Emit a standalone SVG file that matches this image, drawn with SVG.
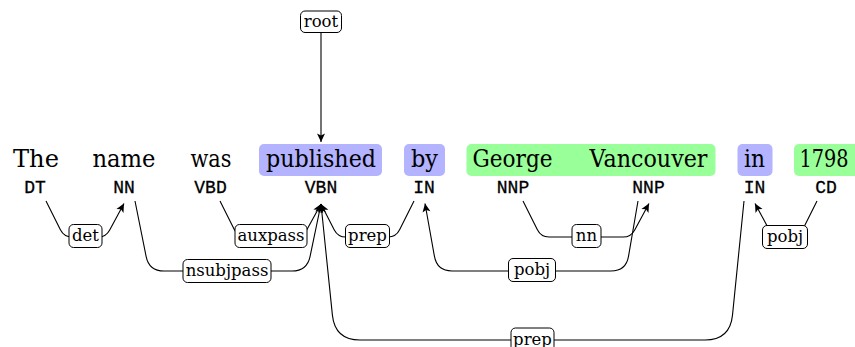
<svg xmlns="http://www.w3.org/2000/svg" width="855" height="347" viewBox="0 0 855 347">
  <style>
    .word { font-family: "DejaVu Serif", "Liberation Serif", serif; font-size: 23.5px; fill: #000; text-anchor: middle; }
    .tag { font-family: "Liberation Mono", "DejaVu Sans Mono", monospace; font-size: 18px; fill: #000; stroke: #000; stroke-width: 0.3; text-anchor: middle; }
    .hl-blue { fill: #b3b3ff; }
    .hl-green { fill: #99ff99; }
    .edge { fill: none; stroke: #000; stroke-width: 1.1; stroke-linejoin: round; marker-end: url(#head); }
    .lbl rect { fill: #fff; stroke: #000; stroke-width: 1; }
    .lbl text { font-family: "DejaVu Serif", "Liberation Serif", serif; font-size: 16.5px; fill: #000; text-anchor: middle; }
  </style>
  <defs>
    <marker id="head" markerUnits="userSpaceOnUse" markerWidth="12" markerHeight="10" refX="10" refY="5" orient="auto" viewBox="0 0 12 10">
      <path d="M10,5 L1.5,1 L3.5,5 L1.5,9 Z" fill="#000"/>
    </marker>
  </defs>

  <rect width="855" height="347" fill="#fff"/>

  <!-- chunk highlight spanning two tokens -->
  <g id="chunk-george-vancouver"><rect class="hl-green" x="466.5" y="144" width="249" height="32" rx="5"/></g>

  <!-- tokens: word on top, part-of-speech tag below -->
  <g id="tok-the"><text class="word" x="36" y="167" textLength="46" lengthAdjust="spacingAndGlyphs">The</text><text class="tag" x="35" y="193">DT</text></g>
  <g id="tok-name"><text class="word" x="124" y="167" textLength="63" lengthAdjust="spacingAndGlyphs">name</text><text class="tag" x="124" y="193">NN</text></g>
  <g id="tok-was"><text class="word" x="211" y="167" textLength="41" lengthAdjust="spacingAndGlyphs">was</text><text class="tag" x="210.5" y="193">VBD</text></g>
  <g id="tok-published"><rect class="hl-blue" x="259" y="144" width="123" height="32" rx="5"/><text class="word" x="321" y="167" textLength="110" lengthAdjust="spacingAndGlyphs">published</text><text class="tag" x="321" y="193">VBN</text></g>
  <g id="tok-by"><rect class="hl-blue" x="404" y="144" width="41" height="32" rx="5"/><text class="word" x="424.5" y="167" textLength="27" lengthAdjust="spacingAndGlyphs">by</text><text class="tag" x="424" y="193">IN</text></g>
  <g id="tok-george"><text class="word" x="512.5" y="167" textLength="80" lengthAdjust="spacingAndGlyphs">George</text><text class="tag" x="513" y="193">NNP</text></g>
  <g id="tok-vancouver"><text class="word" x="648.5" y="167" textLength="118" lengthAdjust="spacingAndGlyphs">Vancouver</text><text class="tag" x="648.5" y="193">NNP</text></g>
  <g id="tok-in"><rect class="hl-blue" x="737.5" y="144" width="35" height="32" rx="5"/><text class="word" x="754.5" y="167" textLength="21" lengthAdjust="spacingAndGlyphs">in</text><text class="tag" x="754.5" y="193">IN</text></g>
  <g id="tok-1798"><rect class="hl-green" x="794" y="144" width="66" height="32" rx="5"/><text class="word" x="824" y="167" font-size="21" textLength="49" lengthAdjust="spacingAndGlyphs">1798</text><text class="tag" x="826" y="193">CD</text></g>

  <!-- dependency arcs -->
  <g id="connectors">
    <path class="edge" d="M321,32 L321,142"/>
    <path class="edge" d="M46,201 L60.4,229.8 Q64,237 72,237 L98,237 Q106,237 109.7,229.9 L124,203.5"/>
    <path class="edge" d="M220,201 L234.4,229.8 Q238,237 246,237 L295,237 Q303,237 306.7,229.9 L321,204"/>
    <path class="edge" d="M414,201 L399.6,229.8 Q396,237 388,237 L346,237 Q338,237 334.3,229.9 L321,204"/>
    <path class="edge" d="M523,201 L537.4,229.8 Q541,237 549,237 L623,237 Q631,237 634.7,229.9 L649,203.5"/>
    <path class="edge" d="M817,201 L802.6,229.8 Q799,237 791,237 L781,237 Q773,237 769.3,229.9 L755,203.5"/>
    <path class="edge" d="M135,201 L146.1,256.3 Q149,271 164,271 L292,271 Q307,271 310.1,256.3 L321,204"/>
    <path class="edge" d="M638,201 L628.5,256.4 Q626,271 611,271 L452,271 Q437,271 434.4,256.2 L425,203.5"/>
    <path class="edge" d="M744,201 L732.5,315.1 Q730,340 705,340 L360,340 Q335,340 332.4,315.1 L321,204"/>
  </g>

  <!-- arc labels -->
  <g id="lbl-root" class="lbl"><rect x="300.5" y="11" width="41" height="21.5" rx="4.5"/><text x="321" y="26.5">root</text></g>
  <g id="lbl-det" class="lbl"><rect x="69" y="224.5" width="33" height="23" rx="4.5"/><text x="85.5" y="241">det</text></g>
  <g id="lbl-auxpass" class="lbl"><rect x="235" y="224.5" width="72" height="23" rx="4.5"/><text x="271" y="241">auxpass</text></g>
  <g id="lbl-prep-by" class="lbl"><rect x="345.5" y="224.5" width="44" height="23" rx="4.5"/><text x="367.5" y="241">prep</text></g>
  <g id="lbl-nn" class="lbl"><rect x="572" y="224.5" width="29" height="23" rx="4.5"/><text x="586.5" y="241">nn</text></g>
  <g id="lbl-pobj-1798" class="lbl"><rect x="762.5" y="225.5" width="45" height="23" rx="4.5"/><text x="785" y="242">pobj</text></g>
  <g id="lbl-nsubjpass" class="lbl"><rect x="183" y="259.5" width="88" height="23" rx="4.5"/><text x="227" y="276">nsubjpass</text></g>
  <g id="lbl-pobj-vancouver" class="lbl"><rect x="508.5" y="258.5" width="47" height="23" rx="4.5"/><text x="532" y="275">pobj</text></g>
  <g id="lbl-prep-in" class="lbl"><rect x="511" y="328" width="43" height="23" rx="4.5"/><text x="532.5" y="344.5">prep</text></g>
</svg>
